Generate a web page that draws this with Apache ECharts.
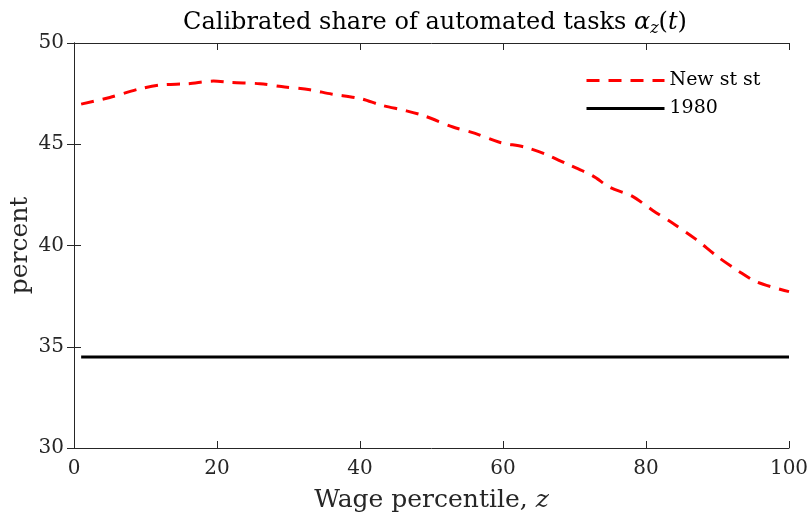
<!DOCTYPE html>
<html>
<head>
<meta charset="utf-8">
<script src="https://cdn.jsdelivr.net/npm/echarts@6/dist/echarts.min.js"></script>
<style>
  html, body { margin: 0; padding: 0; background: #fff; }
  #chart { width: 809px; height: 516px; }
</style>
</head>
<body>
<div id="chart"></div>
<script>
// Wage percentile (x) and calibrated share of automated tasks, in percent
const percentiles = [1, 5, 9, 12, 16, 19.5, 22, 26, 29, 33, 36, 40, 43, 46.5, 49, 53, 56, 59.5, 63, 66, 69, 72.5, 75, 78, 81, 84, 87, 90, 93, 95.5, 100];
const newSteadyState = [46.98, 47.31, 47.72, 47.92, 47.99, 48.12, 48.05, 47.99, 47.85, 47.69, 47.48, 47.26, 46.93, 46.65, 46.40, 45.85, 45.55, 45.10, 44.86, 44.50, 44.02, 43.45, 42.86, 42.45, 41.72, 41.04, 40.30, 39.45, 38.72, 38.20, 37.72];
const baselineX = [1, 100];
const baseline1980 = [34.5, 34.5];

const xTicks = { min: 0, max: 100, interval: 20 };
const yTicks = { min: 30, max: 50, interval: 5 };

const FONT = '"DejaVu Serif", "Liberation Serif", serif';
const AXIS_COLOR = '#262626';

const chart = echarts.init(document.getElementById('chart'), null, { renderer: 'canvas' });

const boxAxis = {
  axisLine: { show: true, lineStyle: { color: AXIS_COLOR, width: 1 } },
  axisTick: { show: true, inside: true, length: 7, lineStyle: { color: AXIS_COLOR } },
  splitLine: { show: false }
};

chart.setOption({
  animation: false,
  backgroundColor: '#ffffff',
  title: {
    text: 'Calibrated share of automated tasks {a|α}{s|z}{n|(}{a|t}{n|)}',
    left: 430, textAlign: 'center', top: 4,
    textStyle: {
      fontFamily: FONT, fontSize: 24, fontWeight: 'normal', color: '#000',
      rich: {
        a: { fontFamily: FONT, fontStyle: 'italic', fontSize: 24, color: '#000' },
        n: { fontFamily: FONT, fontSize: 24, color: '#000' },
        s: { fontFamily: FONT, fontStyle: 'italic', fontSize: 16, color: '#000', verticalAlign: 'bottom', padding: [12, 0, 0, 0] }
      }
    }
  },
  grid: { left: 74, right: 20, top: 43, bottom: 68, containLabel: false, outerBoundsMode: 'none' },
  legend: {
    orient: 'vertical', left: 580, top: 66, itemWidth: 78, itemHeight: 14, itemGap: 9,
    textStyle: { fontFamily: FONT, fontSize: 19, color: '#000' },
    itemStyle: { opacity: 0 },
    lineStyle: { width: 3 },
    data: ['New st st', '1980']
  },
  xAxis: [
    Object.assign({
      type: 'value', min: xTicks.min, max: xTicks.max, interval: xTicks.interval,
      name: 'Wage percentile, {i|z}', nameLocation: 'middle', nameGap: 40, nameMoveOverlap: false,
      nameTextStyle: {
        fontFamily: FONT, fontSize: 25, color: AXIS_COLOR,
        rich: { i: { fontFamily: FONT, fontStyle: 'italic', fontSize: 25, color: AXIS_COLOR } }
      },
      axisLabel: { fontFamily: FONT, fontSize: 20, color: AXIS_COLOR, margin: 11 }
    }, boxAxis),
    Object.assign({
      type: 'value', position: 'top', min: xTicks.min, max: xTicks.max, interval: xTicks.interval,
      axisLabel: { show: false }
    }, boxAxis)
  ],
  yAxis: [
    Object.assign({
      type: 'value', min: yTicks.min, max: yTicks.max, interval: yTicks.interval,
      name: 'percent', nameLocation: 'middle', nameRotate: 90, nameGap: 41, nameMoveOverlap: false,
      nameTextStyle: { fontFamily: FONT, fontSize: 25, color: AXIS_COLOR },
      axisLabel: { fontFamily: FONT, fontSize: 20, color: AXIS_COLOR, margin: 10 }
    }, boxAxis),
    Object.assign({
      type: 'value', position: 'right', min: yTicks.min, max: yTicks.max, interval: yTicks.interval,
      axisLabel: { show: false }
    }, boxAxis)
  ],
  series: [
    {
      name: 'New st st', type: 'line', xAxisIndex: 0, yAxisIndex: 0,
      data: percentiles.map((x, i) => [x, newSteadyState[i]]),
      showSymbol: false, symbol: 'none', smooth: 0.3,
      lineStyle: { color: '#ff0000', width: 3, type: [13, 9] },
      itemStyle: { color: '#ff0000' }
    },
    {
      name: '1980', type: 'line', xAxisIndex: 0, yAxisIndex: 0,
      data: baselineX.map((x, i) => [x, baseline1980[i]]),
      showSymbol: false, symbol: 'none',
      lineStyle: { color: '#000000', width: 3 },
      itemStyle: { color: '#000000' }
    }
  ]
});
</script>
</body>
</html>
